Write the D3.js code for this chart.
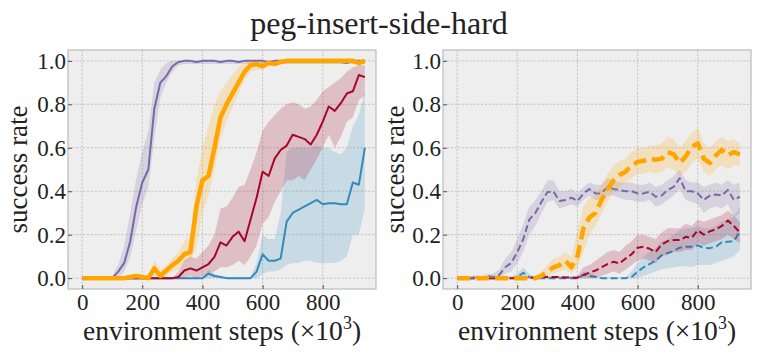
<!DOCTYPE html>
<html><head><meta charset="utf-8">
<script src="https://cdn.jsdelivr.net/npm/d3@7"></script>
<style>
html,body{margin:0;padding:0;background:#fff;}
</style></head>
<body><svg id="c" width="761" height="355"></svg>
<script>
const title = "peg-insert-side-hard";
const xLabel = "environment steps (\u00d710";
const yLabel = "success rate";
const xTicks = [0,200,400,600,800];
const yTicks = [0,0.2,0.4,0.6,0.8,1.0];
const steps = [0,20,40,60,80,100,120,140,160,180,200,220,240,260,280,300,320,340,360,380,400,420,440,460,480,500,520,540,560,580,600,620,640,660,680,700,720,740,760,780,800,820,840,860,880,900,920,940];

// ---- left panel (solid) ----
const lPurple   = [0,0,0,0,0,0,0.03,0.07,0.17,0.33,0.44,0.50,0.78,0.90,0.93,0.975,0.995,1,1,0.995,1,1,1,0.995,1,1,0.995,1,1,1,1,0.995,1,1,1,1,1,1,1,1,1,1,1,0.995,0.99,1,1,1];
const lPurpleLo = [0,0,0,0,0,0,0,0.03,0.1,0.22,0.34,0.42,0.64,0.83,0.9,0.95,0.98,0.985,0.985,0.985,0.985,0.985,0.985,0.985,0.985,0.985,0.985,0.985,0.985,0.985,0.985,0.985,0.985,0.985,0.985,0.985,0.985,0.985,0.985,0.985,0.985,0.985,0.985,0.985,0.985,0.985,0.985,0.985];
const lPurpleHi = [0.01,0.01,0.01,0.01,0.01,0.01,0.06,0.15,0.3,0.46,0.58,0.68,0.9,0.96,0.99,1,1,1,1,1,1,1,1,1,1,1,1,1,1,1,1,1,1,1,1,1,1,1,1,1,1,1,1,1,1,1,1,1];

const lOrange   = [0,0,0,0,0,0,0,0,0.005,0.01,0.005,0,0.045,0.01,0.035,0.06,0.08,0.11,0.12,0.33,0.45,0.47,0.60,0.74,0.80,0.85,0.90,0.95,0.98,0.985,0.975,0.99,0.985,0.995,1,1,1,1,1,1,1,1,1,1,1,1,0.99,1];
const lOrangeLo = [0,0,0,0,0,0,0,0,0,0,0,0,0.01,0,0.01,0.03,0.04,0.07,0.08,0.14,0.3,0.38,0.5,0.64,0.72,0.79,0.85,0.91,0.95,0.96,0.96,0.98,0.975,0.985,0.985,0.985,0.985,0.985,0.985,0.985,0.985,0.985,0.985,0.985,0.985,0.985,0.985,0.985];
const lOrangeHi = [0.01,0.01,0.01,0.01,0.01,0.01,0.01,0.01,0.01,0.01,0.01,0.01,0.08,0.04,0.06,0.09,0.12,0.17,0.2,0.45,0.6,0.7,0.8,0.86,0.9,0.94,0.97,0.99,1,1,1,1,1,1,1,1,1,1,1,1,1,1,1,1,1,1,1,1];

const lRed   = [0,0,0,0,0,0,0,0,0,0,0,0,0,0,0,0,0.005,0.035,0.045,0.035,0.05,0.065,0.098,0.165,0.15,0.19,0.214,0.17,0.27,0.37,0.49,0.47,0.55,0.59,0.61,0.66,0.65,0.64,0.615,0.66,0.72,0.79,0.77,0.805,0.85,0.86,0.935,0.925];
const lRedLo = [0,0,0,0,0,0,0,0,0,0,0,0,0,0,0,0,0,0,0.01,0,0.01,0.02,0.03,0.05,0.05,0.06,0.08,0.06,0.1,0.15,0.25,0.28,0.35,0.40,0.45,0.45,0.47,0.45,0.5,0.55,0.6,0.66,0.6,0.65,0.72,0.74,0.82,0.84];
const lRedHi = [0,0,0,0,0,0,0,0,0,0,0,0,0,0,0,0,0.03,0.08,0.1,0.09,0.12,0.15,0.2,0.32,0.33,0.37,0.42,0.43,0.5,0.58,0.68,0.72,0.75,0.78,0.80,0.81,0.80,0.78,0.79,0.82,0.86,0.88,0.90,0.92,0.95,0.97,0.98,0.98];

const lBlue   = [0,0,0,0,0,0,0,0,0,0,0,0,0,0,0,0,0,0,0,0,0,0.02,0.01,0.005,0,0,0,0,0,0.03,0.11,0.08,0.08,0.09,0.26,0.30,0.315,0.33,0.345,0.36,0.34,0.345,0.345,0.34,0.34,0.44,0.43,0.6];
const lBlueLo = [0,0,0,0,0,0,0,0,0,0,0,0,0,0,0,0,0,0,0,0,0,0,0,0,0,0,0,0,0,0,0.02,0.03,0.03,0.04,0.06,0.07,0.07,0.08,0.08,0.07,0.07,0.07,0.07,0.08,0.1,0.2,0.2,0.32];
const lBlueHi = [0,0,0,0,0,0,0,0,0,0,0,0,0,0,0,0,0,0,0,0,0,0.04,0.02,0.01,0.005,0.005,0.005,0.005,0.005,0.07,0.2,0.18,0.18,0.3,0.58,0.6,0.6,0.6,0.6,0.61,0.6,0.6,0.58,0.57,0.6,0.7,0.75,0.86];

// ---- right panel (dashed) ----
const rPurple   = [0,0,0,0.005,0,0.01,0.005,0.015,0.05,0.07,0.12,0.18,0.27,0.30,0.35,0.395,0.40,0.355,0.36,0.37,0.355,0.39,0.41,0.39,0.39,0.42,0.41,0.405,0.40,0.40,0.39,0.39,0.398,0.375,0.38,0.406,0.42,0.46,0.40,0.40,0.39,0.36,0.38,0.385,0.38,0.406,0.36,0.375];
const rPurpleLo = [0,0,0,0,0,0,0,0,0.02,0.03,0.07,0.12,0.2,0.24,0.3,0.35,0.36,0.32,0.33,0.34,0.33,0.36,0.38,0.36,0.36,0.38,0.38,0.37,0.36,0.36,0.35,0.35,0.36,0.33,0.34,0.36,0.38,0.41,0.36,0.35,0.34,0.30,0.32,0.33,0.32,0.34,0.28,0.3];
const rPurpleHi = [0.005,0.005,0.005,0.015,0.01,0.02,0.02,0.04,0.09,0.12,0.18,0.25,0.33,0.36,0.40,0.45,0.45,0.40,0.40,0.41,0.39,0.42,0.44,0.43,0.43,0.46,0.45,0.44,0.44,0.44,0.43,0.43,0.44,0.42,0.43,0.45,0.47,0.50,0.45,0.44,0.44,0.42,0.43,0.44,0.43,0.45,0.43,0.44];

const rOrange   = [0,0,0,0,0,0,0,0,0,0,0,0,0,0,0.01,0.03,0.05,0.06,0.08,0.05,0.10,0.23,0.28,0.30,0.36,0.41,0.45,0.475,0.49,0.52,0.535,0.54,0.55,0.545,0.55,0.58,0.57,0.53,0.56,0.605,0.62,0.55,0.53,0.565,0.59,0.565,0.58,0.57];
const rOrangeLo = [0,0,0,0,0,0,0,0,0,0,0,0,0,0,0,0.01,0.02,0.03,0.04,0.02,0.05,0.12,0.2,0.24,0.3,0.35,0.4,0.42,0.44,0.46,0.48,0.48,0.49,0.48,0.49,0.51,0.5,0.47,0.49,0.53,0.55,0.49,0.47,0.5,0.52,0.5,0.52,0.52];
const rOrangeHi = [0.01,0.01,0.01,0.01,0.01,0.01,0.01,0.01,0.01,0.01,0.01,0.01,0.01,0.01,0.03,0.06,0.09,0.1,0.12,0.1,0.22,0.33,0.37,0.38,0.43,0.48,0.52,0.54,0.55,0.58,0.6,0.6,0.61,0.61,0.62,0.65,0.64,0.6,0.63,0.67,0.69,0.62,0.6,0.63,0.65,0.63,0.64,0.62];

const rRed   = [0,0,0,0,0,0,0,0,0,0,0,0,0,0.005,0.005,0.005,0.005,0.005,0.003,0.002,0.002,0.015,0.025,0.035,0.05,0.065,0.075,0.068,0.09,0.11,0.14,0.145,0.135,0.12,0.155,0.17,0.175,0.175,0.19,0.185,0.22,0.20,0.215,0.225,0.24,0.265,0.24,0.21];
const rRedLo = [0,0,0,0,0,0,0,0,0,0,0,0,0,0,0,0,0,0,0,0,0,0,0,0.005,0.01,0.02,0.03,0.02,0.04,0.06,0.08,0.09,0.08,0.07,0.1,0.11,0.12,0.12,0.13,0.13,0.16,0.15,0.16,0.17,0.18,0.2,0.18,0.16];
const rRedHi = [0.005,0.005,0.005,0.005,0.005,0.005,0.005,0.005,0.005,0.005,0.005,0.005,0.005,0.01,0.01,0.01,0.01,0.01,0.01,0.01,0.01,0.05,0.06,0.08,0.1,0.12,0.13,0.12,0.15,0.17,0.2,0.2,0.19,0.18,0.21,0.23,0.23,0.23,0.25,0.24,0.27,0.26,0.27,0.28,0.29,0.31,0.29,0.26];

const rBlue   = [0,0,0,0,0,0,0,0,0,0,0.005,0.025,0.005,0,0,0,0,0,0,0,0,0.015,0.01,0.005,0,0,0,0,0,0.005,0.03,0.05,0.065,0.08,0.105,0.115,0.125,0.14,0.145,0.145,0.15,0.14,0.138,0.145,0.165,0.168,0.17,0.215];
const rBlueLo = [0,0,0,0,0,0,0,0,0,0,0,0,0,0,0,0,0,0,0,0,0,0,0,0,0,0,0,0,0,0,0,0.01,0.02,0.03,0.04,0.045,0.05,0.055,0.055,0.05,0.06,0.06,0.06,0.07,0.08,0.09,0.1,0.13];
const rBlueHi = [0.005,0.005,0.005,0.005,0.005,0.005,0.005,0.005,0.005,0.005,0.02,0.05,0.02,0.005,0.005,0.005,0.005,0.005,0.005,0.005,0.005,0.03,0.025,0.015,0.005,0.005,0.005,0.005,0.005,0.03,0.07,0.1,0.12,0.14,0.17,0.18,0.2,0.22,0.23,0.23,0.24,0.23,0.23,0.24,0.26,0.27,0.28,0.33];

const colors = {purple:"#7A68A6", red:"#A60628", blue:"#348ABD", orange:"#FFA500"};
const FONT = "'Liberation Serif'";

const leftSeries = [
  {c:colors.blue, m:lBlue, lo:lBlueLo, hi:lBlueHi, w:2},
  {c:colors.red, m:lRed, lo:lRedLo, hi:lRedHi, w:2},
  {c:colors.purple, m:lPurple, lo:lPurpleLo, hi:lPurpleHi, w:2},
  {c:colors.orange, m:lOrange, lo:lOrangeLo, hi:lOrangeHi, w:4.5}
];
const rightSeries = [
  {c:colors.blue, m:rBlue, lo:rBlueLo, hi:rBlueHi, w:2, dash:"7,3.5"},
  {c:colors.red, m:rRed, lo:rRedLo, hi:rRedHi, w:2, dash:"7,3.5"},
  {c:colors.purple, m:rPurple, lo:rPurpleLo, hi:rPurpleHi, w:2, dash:"7,3.5"},
  {c:colors.orange, m:rOrange, lo:rOrangeLo, hi:rOrangeHi, w:4.5, dash:"13,6"}
];

const svg = d3.select("#c");
const pTop = 50, pBottom = 289;

svg.append("text").attr("x",379).attr("y",34).attr("text-anchor","middle")
  .style("font-family",FONT).style("font-size","32px").attr("fill","#222").text(title);

function panel(x0, x1, series, yLabX){
  const x = d3.scaleLinear().domain([-47, 977]).range([x0, x1]);
  const y = d3.scaleLinear().domain([-0.05, 1.05]).range([pBottom, pTop]);
  const g = svg.append("g");
  g.append("rect").attr("x",x0).attr("y",pTop).attr("width",x1-x0).attr("height",pBottom-pTop)
    .attr("fill","#eeeeee");
  g.selectAll(".gx").data(xTicks).join("line")
    .attr("x1",d=>x(d)).attr("x2",d=>x(d)).attr("y1",pTop).attr("y2",pBottom)
    .attr("stroke","#b9b9b9").attr("stroke-width",0.8).attr("stroke-dasharray","2.2,1.6");
  g.selectAll(".gy").data(yTicks).join("line")
    .attr("y1",d=>y(d)).attr("y2",d=>y(d)).attr("x1",x0).attr("x2",x1)
    .attr("stroke","#b9b9b9").attr("stroke-width",0.8).attr("stroke-dasharray","2.2,1.6");
  const cg = g.append("g");
  series.forEach(s=>{
    const area = d3.area().x((d,i)=>x(steps[i])).y0((d,i)=>y(s.lo[i])).y1((d,i)=>y(s.hi[i]));
    cg.append("path").datum(steps).attr("d",area).attr("fill",s.c).attr("fill-opacity",0.2);
    const line = d3.line().x((d,i)=>x(steps[i])).y(d=>y(d));
    const p = cg.append("path").datum(s.m).attr("d",line).attr("fill","none")
      .attr("stroke",s.c).attr("stroke-width",s.w).attr("stroke-linejoin","round");
    if(s.dash) p.attr("stroke-dasharray",s.dash);
  });
  g.append("rect").attr("x",x0).attr("y",pTop).attr("width",x1-x0).attr("height",pBottom-pTop)
    .attr("fill","none").attr("stroke","#bcbcbc").attr("stroke-width",1.2);
  const ax = g.append("g").attr("transform",`translate(0,${pBottom})`)
    .call(d3.axisBottom(x).tickValues(xTicks).tickFormat(d3.format("d")).tickSize(-4).tickPadding(5));
  const ay = g.append("g").attr("transform",`translate(${x0},0)`)
    .call(d3.axisLeft(y).tickValues(yTicks).tickFormat(d3.format(".1f")).tickSize(-4).tickPadding(2));
  [ax,ay].forEach(a=>{
    a.attr("font-family",null).attr("font-size",null);
    a.select(".domain").remove();
    a.selectAll(".tick line").attr("stroke","#555").attr("stroke-width",1);
    a.selectAll(".tick text").style("font-size","23px").style("font-family",FONT).attr("fill","#222");
  });
  const xl = svg.append("text").attr("x",(x0+x1)/2).attr("y",340).attr("text-anchor","middle")
    .style("font-family",FONT).style("font-size","27.5px").attr("fill","#222");
  xl.append("tspan").text(xLabel);
  xl.append("tspan").attr("dy",-11).style("font-size","18px").text("3");
  xl.append("tspan").attr("dy",11).text(")");
  svg.append("text").attr("transform",`translate(${yLabX},${(pTop+pBottom)/2}) rotate(-90)`)
    .attr("text-anchor","middle").style("font-family",FONT).style("font-size","27px")
    .attr("fill","#222").text(yLabel);
}
panel(68, 376, leftSeries, 27);
panel(443, 751, rightSeries, 404);
</script></body></html>
